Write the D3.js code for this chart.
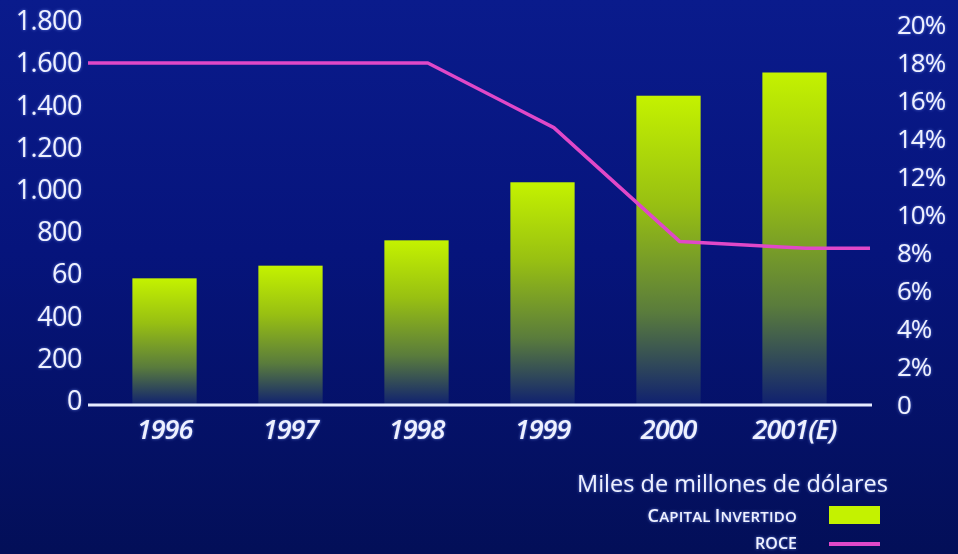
<!DOCTYPE html>
<html>
<head>
<meta charset="utf-8">
<script src="https://cdn.jsdelivr.net/npm/d3@7"></script>
<style>
  html, body { margin: 0; padding: 0; background: #061585; }
  svg { display: block; }
  text { font-family: "Open Sans", "Noto Sans", sans-serif; fill: #eef1ff; }
</style>
</head>
<body>
<svg id="chart" width="958" height="554"></svg>
<script>
// ---- data ----
const years = ["1996", "1997", "1998", "1999", "2000", "2001(E)"];
const capitalInvertido = [600, 660, 780, 1055, 1465, 1575];
const roce = [18, 18, 18, 14.6, 8.6, 8.25];
const leftTickValues = [0, 200, 400, 600, 800, 1000, 1200, 1400, 1600, 1800];
const leftTickLabels = ["0", "200", "400", "60", "800", "1.000", "1.200", "1.400", "1.600", "1.800"];
const rightTickValues = [0, 2, 4, 6, 8, 10, 12, 14, 16, 18, 20];
const rightTickLabels = ["0", "2%", "4%", "6%", "8%", "10%", "12%", "14%", "16%", "18%", "20%"];
const unitLabel = "Miles de millones de dólares";
const legendBar = "CAPITAL INVERTIDO";
const legendLine = "ROCE";

// ---- layout ----
const W = 958, H = 554;
const axisX0 = 88, axisX1 = 872, baseY = 405, topY = 25;
const svg = d3.select("#chart");
const defs = svg.append("defs");

const bg = defs.append("linearGradient").attr("id", "bg").attr("x1", 0).attr("y1", 0).attr("x2", 0).attr("y2", 1);
bg.append("stop").attr("offset", "0%").attr("stop-color", "#0a1b8c");
bg.append("stop").attr("offset", "45%").attr("stop-color", "#06147c");
bg.append("stop").attr("offset", "100%").attr("stop-color", "#030f58");

const glow = defs.append("filter").attr("id", "glow").attr("x", "-10%").attr("y", "-20%").attr("width", "120%").attr("height", "140%");
glow.append("feGaussianBlur").attr("in", "SourceAlpha").attr("stdDeviation", 1.6).attr("result", "b");
glow.append("feFlood").attr("flood-color", "#7f9cff").attr("flood-opacity", 0.7);
glow.append("feComposite").attr("in2", "b").attr("operator", "in").attr("result", "g");
const fm = glow.append("feMerge");
fm.append("feMergeNode").attr("in", "g");
fm.append("feMergeNode").attr("in", "SourceGraphic");

svg.append("rect").attr("width", W).attr("height", H).attr("fill", "url(#bg)");

// scales
const x = d3.scaleBand().domain(years).range([101.5, 857.5]).paddingInner(0.49).paddingOuter(0.245);
const yL = d3.scaleLinear().domain([0, 1800]).range([baseY, topY]);
const yR = d3.scaleLinear().domain([0, 20]).range([baseY, topY]);

// per-bar gradients (top of each bar bright yellow-green fading to navy at base)
years.forEach((yr, i) => {
  const g = defs.append("linearGradient").attr("id", "bg" + i)
    .attr("gradientUnits", "userSpaceOnUse")
    .attr("x1", 0).attr("x2", 0)
    .attr("y1", yL(capitalInvertido[i])).attr("y2", baseY);
  g.append("stop").attr("offset", "0%").attr("stop-color", "#c4f200");
  g.append("stop").attr("offset", "35%").attr("stop-color", "#98c012");
  g.append("stop").attr("offset", "70%").attr("stop-color", "#5a7c3c");
  g.append("stop").attr("offset", "100%").attr("stop-color", "#0f2070");
});

// bars
svg.append("g").selectAll("rect").data(years).join("rect")
  .attr("x", d => x(d))
  .attr("y", (d, i) => yL(capitalInvertido[i]))
  .attr("width", x.bandwidth())
  .attr("height", (d, i) => baseY - yL(capitalInvertido[i]))
  .attr("fill", (d, i) => `url(#bg${i})`);

// ROCE line
const off = x.step() * 0.09;
const pts = years.map((yr, i) => [x(yr) + x.bandwidth() / 2 + off, yR(roce[i])]);
const linePts = [[axisX0, yR(roce[0])], ...pts, [axisX1 - 2, yR(roce[roce.length - 1])]];
svg.append("path")
  .attr("d", d3.line()(linePts))
  .attr("fill", "none")
  .attr("stroke", "#e048c8")
  .attr("stroke-width", 3.5)
  .attr("stroke-linejoin", "round");

// base axis line
svg.append("line")
  .attr("x1", axisX0).attr("x2", axisX1)
  .attr("y1", baseY).attr("y2", baseY)
  .attr("stroke", "#e6ecff").attr("stroke-width", 3);

// left axis
const leftAxis = d3.axisLeft(yL).tickValues(leftTickValues)
  .tickFormat((d, i) => leftTickLabels[i]).tickSize(0).tickPadding(0);
const gl = svg.append("g").attr("transform", `translate(82,-4)`).call(leftAxis);
gl.select(".domain").remove();
gl.selectAll("text").attr("font-size", 27).attr("fill", "#eef1ff")
  .attr("font-family", "'Open Sans', sans-serif").attr("filter", "url(#glow)")
  .style("letter-spacing", "-0.5px");

// right axis
const rightAxis = d3.axisRight(yR).tickValues(rightTickValues)
  .tickFormat((d, i) => rightTickLabels[i]).tickSize(0).tickPadding(0);
const gr = svg.append("g").attr("transform", `translate(897,0)`).call(rightAxis);
gr.select(".domain").remove();
gr.selectAll("text").attr("font-size", 26).attr("fill", "#eef1ff")
  .attr("font-family", "'Open Sans', sans-serif").attr("filter", "url(#glow)")
  .style("letter-spacing", "-1px");

// bottom axis (year labels)
const bottomAxis = d3.axisBottom(x).tickSize(0).tickPadding(0);
const gb = svg.append("g").attr("transform", `translate(0,${baseY + 15})`).call(bottomAxis);
gb.select(".domain").remove();
gb.selectAll("text").attr("font-size", 27).attr("font-style", "italic").attr("font-weight", 600)
  .attr("fill", "#eef1ff").attr("font-family", "'Open Sans', sans-serif")
  .attr("filter", "url(#glow)").style("letter-spacing", "-1px");

// unit label
svg.append("text").attr("x", 888).attr("y", 492).attr("text-anchor", "end")
  .attr("font-size", 23.5).attr("filter", "url(#glow)").text(unitLabel);

// legend: small-caps style via tspans
function smallCaps(sel, str, big, small) {
  str.split("").forEach((ch, i) => {
    const isBig = i === 0 || str[i - 1] === " ";
    sel.append("tspan").attr("font-size", isBig ? big : small).text(ch);
  });
}
const t1 = svg.append("text").attr("x", 797).attr("y", 522).attr("text-anchor", "end")
  .attr("font-weight", 600).attr("filter", "url(#glow)").style("letter-spacing", "0.2px");
smallCaps(t1, legendBar, 18, 15);
svg.append("rect").attr("x", 829).attr("y", 506).attr("width", 51).attr("height", 18)
  .attr("fill", "#c4f200");

svg.append("text").attr("x", 797).attr("y", 548.5).attr("text-anchor", "end")
  .attr("font-weight", 600).attr("font-size", 16).attr("filter", "url(#glow)")
  .text(legendLine);
svg.append("line").attr("x1", 829).attr("x2", 880).attr("y1", 544).attr("y2", 544)
  .attr("stroke", "#e048c8").attr("stroke-width", 4);
</script>
</body>
</html>
